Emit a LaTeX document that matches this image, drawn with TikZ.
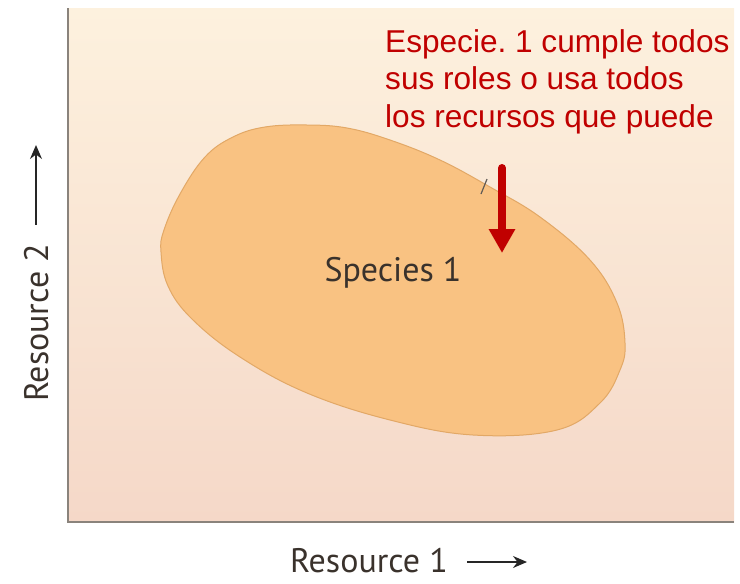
\documentclass[tikz,border=0pt]{standalone}
\usepackage{fontspec}
\setmainfont{Liberation Sans}
\newfontfamily\labelfont{PT Sans}
\usetikzlibrary{arrows.meta, positioning}
\definecolor{bgtop}{HTML}{FDF1DE}
\definecolor{bgbottom}{HTML}{F5D8C8}
\definecolor{nichefill}{HTML}{F9C282}
\definecolor{nicheline}{HTML}{E2A866}
\definecolor{axisgray}{HTML}{8A837C}
\definecolor{labelgray}{HTML}{3A322C}
\definecolor{notered}{HTML}{C00000}
\frenchspacing

\begin{document}
\begin{tikzpicture}[x=1pt, y=-1pt,
    axislabel/.style={font=\labelfont\fontsize{34}{40}\selectfont, text=labelgray, inner sep=0pt},
    axisarrow/.style={draw=black!85, line width=1.6pt, -{Stealth[length=14pt, width=12pt]}}]
\useasboundingbox (0,0) rectangle (740,584);

% Plot area
\shade[top color=bgtop, bottom color=bgbottom] (68,8) rectangle (734,522);
\draw[axisgray, line width=2pt] (68,8) -- (68,522) -- (734,522);

% Niche of species 1
\filldraw[fill=nichefill, draw=nicheline, line width=1pt]
  plot[smooth cycle, tension=0.65] coordinates {(161,252) (168,286) (192,319) (240,357) (307,393) (390,420) (473,435) (557,430) (600,403) (620,370) (625,343) (617,303) (590,260) (540,217) (490,187) (440,160) (390,140) (347,128) (307,125) (265,127) (233,137) (205,157) (180,194) (164,230)};
\draw[labelgray!80, line width=1.2pt] (487,179) -- (481,194);
\node[axislabel] (sp) at (393,273) {Species 1};

% Axis labels
\node[axislabel, anchor=east] (rx) at (448,561) {Resource 1};
\coordinate (rxend) at (527,562);
\draw[axisarrow] ([xshift=19pt]rx.east |- rxend) -- (rxend);
\node[axislabel, rotate=90, anchor=west] (ry) at (37,402) {Resource 2};
\coordinate (ryend) at (36,145);
\draw[axisarrow] ([yshift=19pt]ry.east -| ryend) -- (ryend);

% Note
\node[anchor=north west, align=left, inner sep=0pt, text=notered, font=\fontsize{31.6}{37.5}\selectfont] (note) at (385,29) {Especie. 1 cumple todos\\sus roles o usa todos\\los recursos que puede};
\coordinate (notetop) at (502,168);
\coordinate (notetip) at (502,253);
\draw[notered, line width=8pt, line cap=round, -{Triangle[length=24pt, width=25pt]}] (notetop) -- (notetip);
\end{tikzpicture}
\end{document}
